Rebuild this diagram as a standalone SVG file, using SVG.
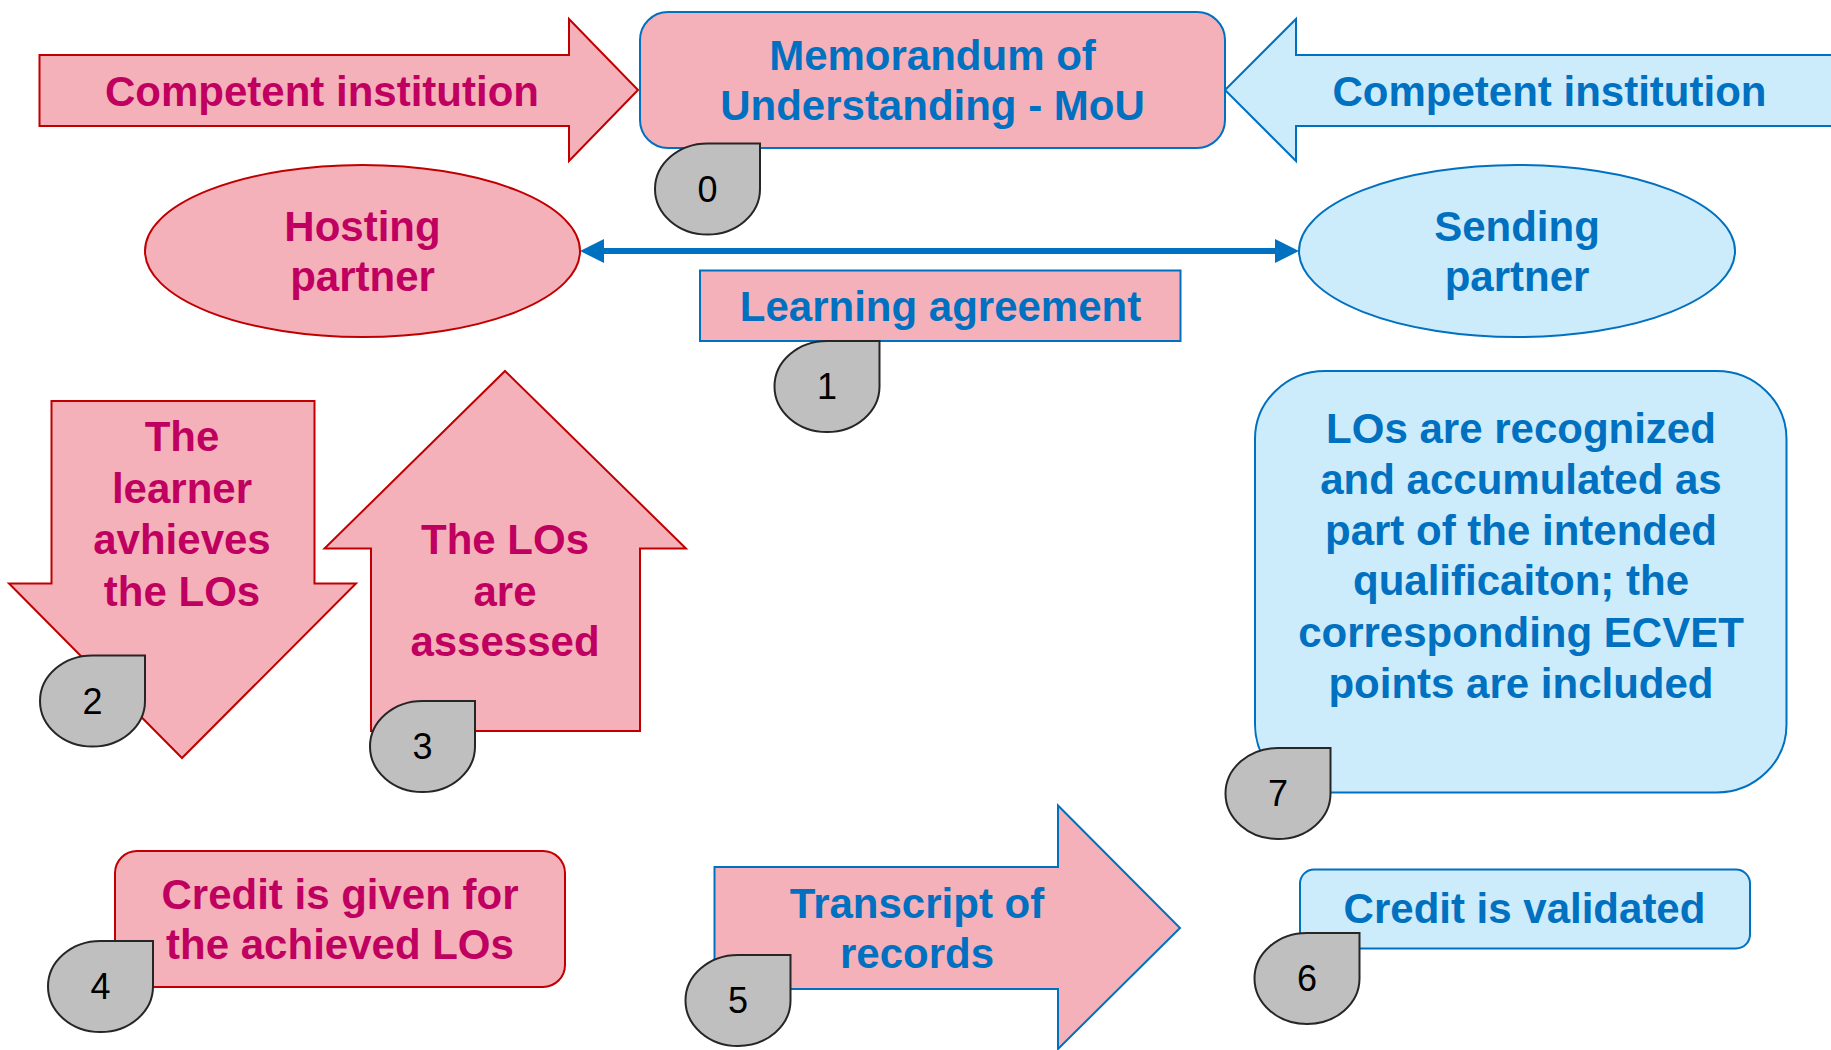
<svg xmlns="http://www.w3.org/2000/svg" width="1831" height="1050" viewBox="0 0 1831 1050">
<style>
.pink{fill:#F5B1B9;stroke:#C00000;stroke-width:2}
.pinkb{fill:#F5B1B9;stroke:#0070C0;stroke-width:2}
.blue{fill:#CCEBFB;stroke:#0070C0;stroke-width:2}
.t{font-family:"Liberation Sans",Arial,sans-serif;font-weight:bold;font-size:42px;text-anchor:middle}
.tm{fill:#C00060}
.tb{fill:#0070C0}
.badge{fill:#BFBFBF;stroke:#262626;stroke-width:2}
.num{font-family:"Liberation Sans",Arial,sans-serif;font-size:36px;fill:#000;text-anchor:middle}
</style>
<defs>
<path id="drop" d="M-52.5,0 A52.5,45.5 0 0 1 0,-45.5 L52.5,-45.5 L52.5,0 A52.5,45.5 0 0 1 0,45.5 A52.5,45.5 0 0 1 -52.5,0 Z"/>
<marker id="ah" markerUnits="userSpaceOnUse" viewBox="0 0 24 24" markerWidth="24" markerHeight="24" refX="4" refY="12" orient="auto-start-reverse">
<path d="M0,0 L24,12 L0,24 Z" fill="#0070C0"/>
</marker>
</defs>
<rect width="1831" height="1050" fill="#FFFFFF"/>

<g id="connectors">
<line x1="600" y1="251" x2="1279" y2="251" stroke="#0070C0" stroke-width="6" marker-start="url(#ah)" marker-end="url(#ah)"/>
</g>

<g id="competent-left">
<polygon class="pink" points="39.5,55 569,55 569,19 638,90 569,161 569,126 39.5,126"/>
<text class="t tm" x="322" y="106">Competent institution</text>
</g>

<g id="competent-right">
<polygon class="blue" points="1840,55 1296,55 1296,19 1225,90 1296,161 1296,126 1840,126"/>
<text class="t tb" x="1549.5" y="106">Competent institution</text>
</g>

<g id="mou">
<rect class="pinkb" x="640" y="12" width="585" height="136" rx="28" ry="28"/>
<text class="t tb" x="932.5" y="70">Memorandum of</text>
<text class="t tb" x="932.5" y="120">Understanding - MoU</text>
</g>

<g id="badge0">
<use href="#drop" class="badge" transform="translate(707.5,189)"/>
<text class="num" x="707.5" y="201.5">0</text>
</g>

<g id="hosting">
<ellipse class="pink" cx="362.5" cy="251" rx="217.5" ry="86"/>
<text class="t tm" x="362.5" y="240.5">Hosting</text>
<text class="t tm" x="362.5" y="291">partner</text>
</g>

<g id="sending">
<ellipse class="blue" cx="1517" cy="251" rx="218" ry="86"/>
<text class="t tb" x="1517" y="240.5">Sending</text>
<text class="t tb" x="1517" y="291">partner</text>
</g>

<g id="learning-agreement">
<rect class="pinkb" x="700" y="270.5" width="480.5" height="70.5"/>
<text class="t tb" x="940.5" y="320.5">Learning agreement</text>
</g>

<g id="badge1">
<use href="#drop" class="badge" transform="translate(827,386.5)"/>
<text class="num" x="827" y="399">1</text>
</g>

<g id="learner-achieves">
<polygon class="pink" points="51.5,401 314.5,401 314.5,583.5 356,583.5 182,758 9,583.5 51.5,583.5"/>
<text class="t tm" x="182" y="451">The</text>
<text class="t tm" x="182" y="502.5">learner</text>
<text class="t tm" x="182" y="554">avhieves</text>
<text class="t tm" x="182" y="605.5">the LOs</text>
</g>

<g id="badge2">
<use href="#drop" class="badge" transform="translate(92.5,701)"/>
<text class="num" x="92.5" y="713.5">2</text>
</g>

<g id="los-assessed">
<polygon class="pink" points="505,371 686,548.5 640,548.5 640,731 371,731 371,548.5 324.5,548.5"/>
<text class="t tm" x="505" y="554">The LOs</text>
<text class="t tm" x="505" y="605.5">are</text>
<text class="t tm" x="505" y="656">assessed</text>
</g>

<g id="badge3">
<use href="#drop" class="badge" transform="translate(422.5,746.5)"/>
<text class="num" x="422.5" y="759">3</text>
</g>

<g id="credit-given">
<rect class="pink" x="115" y="851" width="450" height="136" rx="22" ry="22"/>
<text class="t tm" x="340" y="908.5">Credit is given for</text>
<text class="t tm" x="340" y="959">the achieved LOs</text>
</g>

<g id="badge4">
<use href="#drop" class="badge" transform="translate(100.5,986.5)"/>
<text class="num" x="100.5" y="999">4</text>
</g>

<g id="transcript">
<polygon class="pinkb" points="714.5,867 1058,867 1058,805.5 1180,928 1058,1049 1058,989 714.5,989"/>
<text class="t tb" x="917" y="917.5">Transcript of</text>
<text class="t tb" x="917" y="967.5">records</text>
</g>

<g id="badge5">
<use href="#drop" class="badge" transform="translate(738,1000.5)"/>
<text class="num" x="738" y="1013">5</text>
</g>

<g id="los-recognized">
<rect class="blue" x="1255" y="371" width="531.5" height="421.5" rx="70" ry="68"/>
<text class="t tb" x="1521" y="442.5">LOs are recognized</text>
<text class="t tb" x="1521" y="493.5">and accumulated as</text>
<text class="t tb" x="1521" y="544.5">part of the intended</text>
<text class="t tb" x="1521" y="595">qualificaiton; the</text>
<text class="t tb" x="1521" y="646.5">corresponding ECVET</text>
<text class="t tb" x="1521" y="697.5">points are included</text>
</g>

<g id="badge7">
<use href="#drop" class="badge" transform="translate(1278,793.5)"/>
<text class="num" x="1278" y="806">7</text>
</g>

<g id="credit-validated">
<rect class="blue" x="1300" y="869.5" width="450" height="79" rx="14" ry="14"/>
<text class="t tb" x="1524.5" y="922.5">Credit is validated</text>
</g>

<g id="badge6">
<use href="#drop" class="badge" transform="translate(1307,978.5)"/>
<text class="num" x="1307" y="991">6</text>
</g>
</svg>
